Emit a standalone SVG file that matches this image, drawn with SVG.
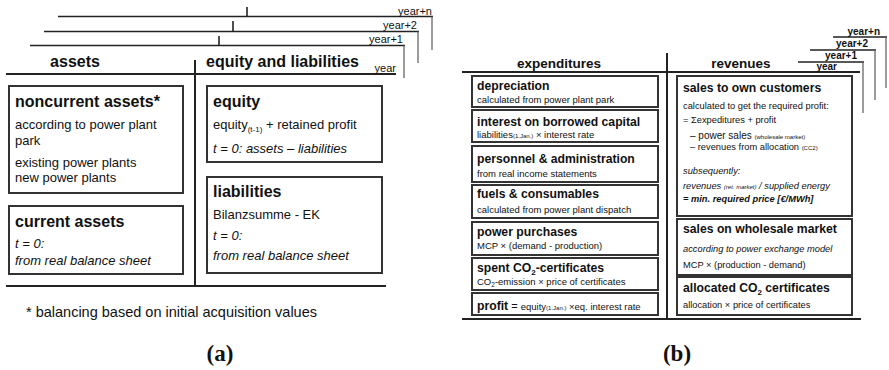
<svg xmlns="http://www.w3.org/2000/svg" width="889" height="370" viewBox="0 0 889 370">
<style>
text{font-family:"Liberation Sans",Arial,sans-serif;fill:#111}
.ser{font-family:"Liberation Serif","Times New Roman",serif;font-weight:bold;font-size:23px}
.h{font-weight:bold;font-size:16px}
.t{font-size:13px}
.fn{font-size:14.5px}
.it{font-style:italic}
.yr{font-size:11px}
.yrb{font-size:10px;font-weight:bold}
.hb{font-weight:bold;font-size:13.5px}
.bt{font-weight:bold;font-size:12.2px}
.s{font-size:9.5px}
.r{font-size:9.3px}
.tiny{font-size:6px}
.box{fill:#fff;stroke:#333;stroke-width:2}
.ln{stroke:#222;stroke-width:2;fill:none}
.tk{stroke:#222;stroke-width:1.6;fill:none}
.gv{stroke:#666;stroke-width:1.3;fill:none}
</style>

<g id="connectors">
  <line class="tk" x1="58" y1="16.5" x2="433" y2="16.5"/>
  <line class="tk" x1="247" y1="7" x2="247" y2="16.5"/>
  <line class="gv" x1="432" y1="16.5" x2="432" y2="50"/>
  <line class="tk" x1="44" y1="31.5" x2="419" y2="31.5"/>
  <line class="tk" x1="233" y1="21" x2="233" y2="31.5"/>
  <line class="gv" x1="418" y1="31.5" x2="418" y2="63"/>
  <line class="tk" x1="30" y1="45.5" x2="405" y2="45.5"/>
  <line class="tk" x1="219" y1="36" x2="219" y2="45.5"/>
  <line class="gv" x1="404" y1="45.5" x2="404" y2="78"/>
  <line class="ln" x1="6" y1="74" x2="396" y2="74"/>
  <line class="ln" x1="195" y1="60" x2="195" y2="286"/>
  <line class="ln" x1="6" y1="286" x2="386" y2="286"/>
  <line class="tk" x1="833" y1="37" x2="887" y2="37"/>
  <line class="gv" x1="886" y1="37" x2="886" y2="88"/>
  <line class="tk" x1="810" y1="50" x2="876" y2="50"/>
  <line class="gv" x1="875" y1="50" x2="875" y2="100"/>
  <line class="tk" x1="798" y1="62" x2="864" y2="62"/>
  <line class="gv" x1="863" y1="62" x2="863" y2="113"/>
  <line class="ln" x1="462" y1="72" x2="860" y2="72"/>
  <line class="ln" x1="667" y1="53" x2="667" y2="319"/>
  <line class="ln" x1="462" y1="319" x2="861" y2="319"/>
</g>

<g id="labels-a">
  <text class="yr" x="432" y="15" text-anchor="end">year+n</text>
  <text class="yr" x="417" y="29" text-anchor="end">year+2</text>
  <text class="yr" x="403" y="43" text-anchor="end">year+1</text>
  <text class="yr" x="396" y="72" text-anchor="end">year</text>
  <text class="h" x="75" y="67" text-anchor="middle">assets</text>
  <text class="h" x="206" y="67">equity and liabilities</text>
  <text class="fn" x="26" y="317">* balancing based on initial acquisition values</text>
  <text class="ser" x="220" y="361" text-anchor="middle">(a)</text>
</g>

<g id="noncurrent-assets">
  <rect class="box" x="9" y="86" width="174" height="107"/>
  <text class="h" x="15" y="107">noncurrent assets*</text>
  <text class="t" x="15" y="129">according to power plant</text>
  <text class="t" x="15" y="145">park</text>
  <text class="t" x="15" y="167">existing power plants</text>
  <text class="t" x="15" y="182">new power plants</text>
</g>
<g id="current-assets">
  <rect class="box" x="9" y="206" width="174" height="68"/>
  <text class="h" x="15" y="227">current assets</text>
  <text class="t it" x="15" y="248">t = 0:</text>
  <text class="t it" x="15" y="265">from real balance sheet</text>
</g>
<g id="equity">
  <rect class="box" x="207" y="86" width="175" height="76"/>
  <text class="h" x="213" y="107">equity</text>
  <text class="t" x="213" y="129">equity<tspan font-size="8" dy="3">(t-1)</tspan><tspan dy="-3"> + retained profit</tspan></text>
  <text class="t it" x="213" y="153">t = 0: assets – liabilities</text>
</g>
<g id="liabilities">
  <rect class="box" x="207" y="177" width="175" height="96"/>
  <text class="h" x="213" y="197">liabilities</text>
  <text class="t" x="213" y="219">Bilanzsumme - EK</text>
  <text class="t it" x="213" y="240">t = 0:</text>
  <text class="t it" x="213" y="260">from real balance sheet</text>
</g>

<g id="labels-b">
  <text class="yrb" x="880" y="35" text-anchor="end">year+n</text>
  <text class="yrb" x="868" y="47" text-anchor="end">year+2</text>
  <text class="yrb" x="857" y="59" text-anchor="end">year+1</text>
  <text class="yrb" x="837" y="70" text-anchor="end">year</text>
  <text class="hb" x="559" y="68" text-anchor="middle">expenditures</text>
  <text class="hb" x="741" y="68" text-anchor="middle">revenues</text>
  <text class="ser" x="677" y="361" text-anchor="middle">(b)</text>
</g>

<g id="depreciation">
  <rect class="box" x="472" y="76" width="186" height="31"/>
  <text class="bt" x="477" y="90">depreciation</text>
  <text class="s" x="477" y="103">calculated from power plant park</text>
</g>
<g id="interest">
  <rect class="box" x="472" y="110" width="186" height="32"/>
  <text class="bt" x="477" y="126">interest on borrowed capital</text>
  <text class="s" x="477" y="138">liabilities<tspan class="tiny">(1.Jan.)</tspan> × interest rate</text>
</g>
<g id="personnel">
  <rect class="box" x="472" y="146" width="186" height="36"/>
  <text class="bt" x="477" y="163">personnel &amp; administration</text>
  <text class="s" x="477" y="177">from real income statements</text>
</g>
<g id="fuels">
  <rect class="box" x="472" y="185" width="186" height="33"/>
  <text class="bt" x="477" y="198">fuels &amp; consumables</text>
  <text class="s" x="477" y="213">calculated from power plant dispatch</text>
</g>
<g id="power-purchases">
  <rect class="box" x="472" y="222" width="186" height="33"/>
  <text class="bt" x="477" y="236">power purchases</text>
  <text class="s" x="477" y="249">MCP × (demand - production)</text>
</g>
<g id="spent-co2">
  <rect class="box" x="472" y="258" width="186" height="32"/>
  <text class="bt" x="477" y="272">spent CO<tspan font-size="8" dy="3">2</tspan><tspan dy="-3">-certificates</tspan></text>
  <text class="s" x="477" y="285">CO<tspan font-size="6.5" dy="2">2</tspan><tspan dy="-2">-emission × price of certificates</tspan></text>
</g>
<g id="profit">
  <rect class="box" x="472" y="293" width="186" height="22"/>
  <text x="477" y="310"><tspan class="bt">profit</tspan><tspan font-size="11"> = </tspan><tspan font-size="9.5">equity</tspan><tspan class="tiny">(1.Jan.)</tspan><tspan font-size="9.5"> ×eq. interest rate</tspan></text>
</g>

<g id="sales-own">
  <rect class="box" x="677" y="76" width="175" height="140"/>
  <text class="bt" x="683" y="92">sales to own customers</text>
  <text class="r" x="683" y="109">calculated to get the required profit:</text>
  <text class="r" x="683" y="123">= Σexpeditures + profit</text>
  <text font-size="10" x="690" y="139">– power sales <tspan class="tiny">(wholesale market)</tspan></text>
  <text class="r" x="690" y="150">– revenues from allocation <tspan class="tiny">(CC2)</tspan></text>
  <text class="r it" x="683" y="174">subsequently:</text>
  <text class="r it" x="683" y="189">revenues <tspan class="tiny">(ret. market)</tspan> / supplied energy</text>
  <text class="r it" x="683" y="202" font-weight="bold">= min. required price [€/MWh]</text>
</g>
<g id="sales-wholesale">
  <rect class="box" x="677" y="219" width="175" height="56"/>
  <text class="bt" x="683" y="233">sales on wholesale market</text>
  <text class="r it" x="683" y="252">according to power exchange model</text>
  <text class="r" x="683" y="268">MCP × (production - demand)</text>
</g>
<g id="allocated-co2">
  <rect class="box" x="677" y="277" width="175" height="38"/>
  <text class="bt" x="683" y="292">allocated CO<tspan font-size="8" dy="3">2</tspan><tspan dy="-3"> certificates</tspan></text>
  <text class="r" x="683" y="308">allocation × price of certificates</text>
</g>
</svg>
